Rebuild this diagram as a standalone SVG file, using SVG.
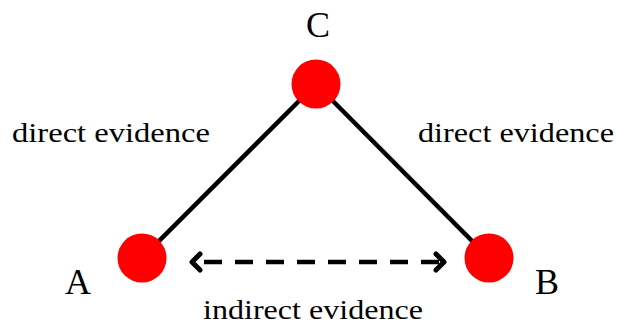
<svg xmlns="http://www.w3.org/2000/svg" width="617" height="325" viewBox="0 0 617 325">
  <style>
    .edge { stroke: #000; stroke-width: 4.5; fill: none; }
    .node { fill: #ff0000; }
    .lbl { font-family: "Liberation Serif", "DejaVu Serif", serif; fill: #000; }
    .big { font-size: 36px; text-anchor: middle; }
    .small { font-size: 27px; }
  </style>
  <defs>
    <marker id="chev" viewBox="0 0 14 22" refX="12" refY="11" markerWidth="14" markerHeight="22" markerUnits="userSpaceOnUse" orient="auto-start-reverse">
      <path d="M3,3 L11,11 L3,19" fill="none" stroke="#000" stroke-width="5" stroke-linecap="round" stroke-linejoin="round"/>
    </marker>
  </defs>

  <!-- connectors -->
  <g id="connectors">
    <line class="edge" x1="142" y1="258" x2="316" y2="84"/>
    <line class="edge" x1="316" y1="84" x2="489" y2="258"/>
    <line class="edge" x1="191" y1="262" x2="445" y2="262" stroke-width="5" stroke-dasharray="18 13" stroke-dashoffset="-13" marker-start="url(#chev)" marker-end="url(#chev)"/>
  </g>

  <g id="node-C">
    <circle class="node" cx="316" cy="84" r="24.5"/>
    <text class="lbl big" x="318" y="37">C</text>
  </g>
  <g id="node-A">
    <circle class="node" cx="142" cy="258" r="24.5"/>
    <text class="lbl big" x="78" y="294">A</text>
  </g>
  <g id="node-B">
    <circle class="node" cx="489" cy="258" r="24.5"/>
    <text class="lbl big" x="547" y="294">B</text>
  </g>

  <!-- edge labels -->
  <text class="lbl small" x="12" y="142" textLength="198" lengthAdjust="spacingAndGlyphs">direct evidence</text>
  <text class="lbl small" x="418" y="142" textLength="196" lengthAdjust="spacingAndGlyphs">direct evidence</text>
  <text class="lbl small" x="203" y="319" textLength="220" lengthAdjust="spacingAndGlyphs">indirect evidence</text>
</svg>
